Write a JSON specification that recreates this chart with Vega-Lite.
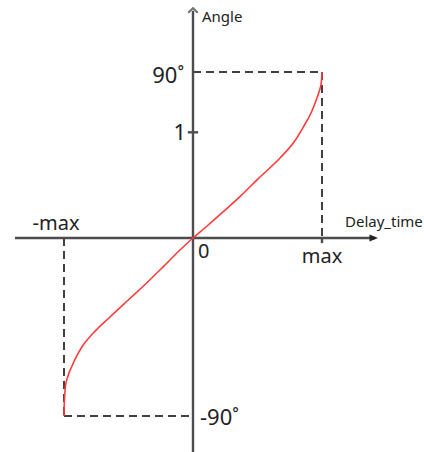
{
  "$schema": "https://vega.github.io/schema/vega-lite/v6.json",
  "width": 424,
  "height": 452,
  "padding": 0,
  "autosize": "none",
  "background": "white",
  "config": {"view": {"stroke": null}},
  "datasets": {
    "curve": [
      {"delay": -1.0000, "angle": -1.5708},
      {"delay": -0.9984, "angle": -1.4825},
      {"delay": -0.9946, "angle": -1.3943},
      {"delay": -0.9884, "angle": -1.3060},
      {"delay": -0.9690, "angle": -1.2178},
      {"delay": -0.9380, "angle": -1.1295},
      {"delay": -0.9008, "angle": -1.0412},
      {"delay": -0.8566, "angle": -0.9530},
      {"delay": -0.7729, "angle": -0.8382},
      {"delay": -0.6434, "angle": -0.6970},
      {"delay": -0.5016, "angle": -0.5470},
      {"delay": -0.3590, "angle": -0.3970},
      {"delay": -0.2300, "angle": -0.2530},
      {"delay": -0.1010, "angle": -0.1060},
      {"delay": 0.0000, "angle": 0.0000},
      {"delay": 0.1000, "angle": 0.1040},
      {"delay": 0.2350, "angle": 0.2490},
      {"delay": 0.3700, "angle": 0.3980},
      {"delay": 0.5000, "angle": 0.5550},
      {"delay": 0.6744, "angle": 0.7569},
      {"delay": 0.7829, "angle": 0.9082},
      {"delay": 0.8550, "angle": 1.0501},
      {"delay": 0.9186, "angle": 1.1921},
      {"delay": 0.9496, "angle": 1.2867},
      {"delay": 0.9767, "angle": 1.3813},
      {"delay": 0.9953, "angle": 1.4759},
      {"delay": 1.0000, "angle": 1.5708}
    ],
    "guides": [
      {"x": 0, "y": 1.5708, "x2": 1, "y2": 1.5708},
      {"x": 1, "y": 1.5708, "x2": 1, "y2": 0},
      {"x": -1, "y": 0, "x2": -1, "y2": -1.5708},
      {"x": -1, "y": -1.5708, "x2": 0, "y2": -1.5708}
    ],
    "axes": [
      {"x": -1.38, "y": 0, "x2": 1.41, "y2": 0},
      {"x": 0, "y": -1.90, "x2": 0, "y2": 2.15},
      {"x": -0.04, "y": 1, "x2": 0.04, "y2": 1},
      {"x": 1, "y": 0, "x2": 1, "y2": -0.045}
    ],
    "labels": [
      {"label": "Angle", "x": 0, "y": 2.176},
      {"label": "Delay_time", "x": 1.434, "y": 0},
      {"label": "90˚", "x": 0, "y": 1.5708},
      {"label": "1", "x": 0, "y": 1},
      {"label": "-90˚", "x": 0, "y": -1.5708},
      {"label": "0", "x": 0, "y": 0},
      {"label": "max", "x": 1, "y": 0},
      {"label": "-max", "x": -1, "y": 0}
    ]
  },
  "encoding": {
    "x": {"field": "x", "type": "quantitative", "axis": null,
          "scale": {"domain": [-1, 1], "range": [64, 322], "zero": false, "nice": false}},
    "y": {"field": "y", "type": "quantitative", "axis": null,
          "scale": {"domain": [-1.5708, 0, 1.5708], "range": [416, 238, 72], "zero": false, "nice": false}}
  },
  "layer": [
    {
      "data": {"name": "guides"},
      "mark": {"type": "rule", "color": "#404040", "strokeWidth": 2, "strokeDash": [8, 5]},
      "encoding": {"x2": {"field": "x2"}, "y2": {"field": "y2"}}
    },
    {
      "data": {"name": "axes"},
      "mark": {"type": "rule", "color": "#4d4d4d", "strokeWidth": 2.4},
      "encoding": {"x2": {"field": "x2"}, "y2": {"field": "y2"}}
    },
    {
      "data": {"name": "labels"},
      "transform": [{"filter": "datum.label === 'Angle'"}],
      "mark": {"type": "point", "shape": "M-1,1L0,0L1,1", "size": 90, "filled": false, "stroke": "#333", "strokeWidth": 2}
    },
    {
      "data": {"name": "labels"},
      "transform": [{"filter": "datum.label === 'Delay_time'"}],
      "mark": {"type": "point", "shape": "M-2.4,-1L0,0L-2.4,1Z", "size": 50, "filled": true, "color": "#222", "opacity": 1}
    },
    {
      "data": {"name": "curve"},
      "mark": {"type": "line", "color": "#ff3b3b", "strokeWidth": 1.6, "interpolate": "monotone"},
      "encoding": {
        "x": {"field": "delay", "type": "quantitative"},
        "y": {"field": "angle", "type": "quantitative"}
      }
    },
    {
      "data": {"name": "labels"},
      "transform": [{"filter": "datum.label === 'Angle'"}],
      "mark": {"type": "text", "align": "left", "baseline": "alphabetic", "dx": 9, "dy": 14, "font": "Noto Sans", "fontSize": 15, "color": "#222"},
      "encoding": {"text": {"field": "label"}}
    },
    {
      "data": {"name": "labels"},
      "transform": [{"filter": "datum.label === 'Delay_time'"}],
      "mark": {"type": "text", "align": "left", "baseline": "alphabetic", "dx": -33, "dy": -11, "font": "Noto Sans", "fontSize": 15, "color": "#222"},
      "encoding": {"text": {"field": "label"}}
    },
    {
      "data": {"name": "labels"},
      "transform": [{"filter": "datum.label === '90˚'"}],
      "mark": {"type": "text", "align": "right", "baseline": "alphabetic", "dx": -9, "dy": 11, "font": "Noto Sans", "fontSize": 22, "color": "#222"},
      "encoding": {"text": {"field": "label"}}
    },
    {
      "data": {"name": "labels"},
      "transform": [{"filter": "datum.label === '1'"}],
      "mark": {"type": "text", "align": "right", "baseline": "alphabetic", "dx": -7, "dy": 8, "font": "Noto Sans", "fontSize": 22, "color": "#222"},
      "encoding": {"text": {"field": "label"}}
    },
    {
      "data": {"name": "labels"},
      "transform": [{"filter": "datum.label === '-90˚'"}],
      "mark": {"type": "text", "align": "left", "baseline": "alphabetic", "dx": 7, "dy": 9, "font": "Noto Sans", "fontSize": 22, "color": "#222"},
      "encoding": {"text": {"field": "label"}}
    },
    {
      "data": {"name": "labels"},
      "transform": [{"filter": "datum.label === '0'"}],
      "mark": {"type": "text", "align": "left", "baseline": "alphabetic", "dx": 5, "dy": 20, "font": "Noto Sans", "fontSize": 20, "color": "#222"},
      "encoding": {"text": {"field": "label"}}
    },
    {
      "data": {"name": "labels"},
      "transform": [{"filter": "datum.label === 'max'"}],
      "mark": {"type": "text", "align": "center", "baseline": "alphabetic", "dx": 0, "dy": 25, "font": "Noto Sans", "fontSize": 20, "color": "#222"},
      "encoding": {"text": {"field": "label"}}
    },
    {
      "data": {"name": "labels"},
      "transform": [{"filter": "datum.label === '-max'"}],
      "mark": {"type": "text", "align": "center", "baseline": "alphabetic", "dx": -8, "dy": -8, "font": "Noto Sans", "fontSize": 20, "color": "#222"},
      "encoding": {"text": {"field": "label"}}
    }
  ]
}
